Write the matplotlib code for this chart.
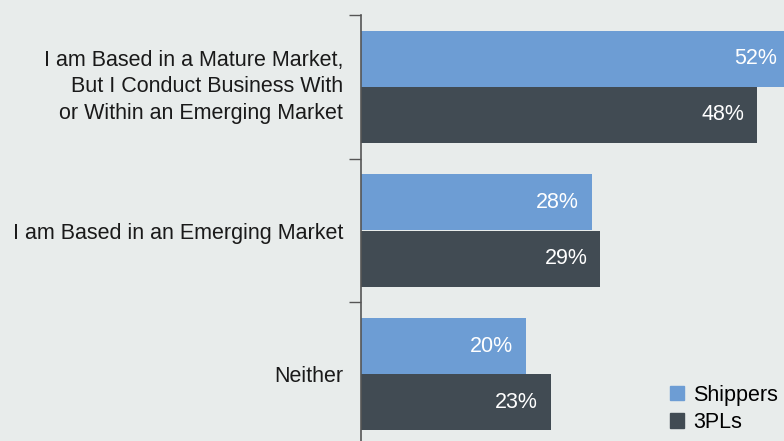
import matplotlib.pyplot as plt
from matplotlib.patches import Patch
from matplotlib.transforms import ScaledTranslation

# data
categories = ["I am Based in a Mature Market,\nBut I Conduct Business With\nor Within an Emerging Market",
              "I am Based in an Emerging Market",
              "Neither"]
shippers = [52, 28, 20]
tpls = [48, 29, 23]
series_names = ["Shippers", "3PLs"]

bg = "#e8eceb"
blue = "#6d9dd4"
dark = "#414b53"

plt.rcParams['font.family'] = ['Liberation Sans', 'DejaVu Sans']

fig = plt.figure(figsize=(7.84, 4.41), dpi=100, facecolor=bg)
ax = fig.add_axes([361/784, -5/441, 55*8.25/784, 431/441])
ax.set_facecolor(bg)

y = list(range(len(categories)))
h = 0.39
ax.barh([v - h/2 for v in y], shippers, height=h, color=blue)
ax.barh([v + h/2 for v in y], tpls, height=h, color=dark)

for i, (s, t) in enumerate(zip(shippers, tpls)):
    ax.annotate(f"{s}%", (s, i - h/2), xytext=(-13, 0), textcoords='offset pixels',
                ha='right', va='center', color='white', fontsize=15.5)
    ax.annotate(f"{t}%", (t, i + h/2), xytext=(-13, 0), textcoords='offset pixels',
                ha='right', va='center', color='white', fontsize=15.5)

ax.set_xlim(0, 55)
ax.set_ylim(2.5, -0.5)
ax.set_xticks([])
ax.set_yticks(y)
ax.set_yticklabels(categories, fontsize=15.5, color='#1a1a1a', linespacing=1.33)
ax.tick_params(axis='y', which='major', length=0, pad=13)
ax.set_yticks([-0.5, 0.5, 1.5, 2.5], minor=True)
ax.tick_params(axis='y', which='minor', length=8.6, width=1, color='#555555')
for sp in ['top', 'right', 'bottom']:
    ax.spines[sp].set_visible(False)
ax.spines['left'].set_color('#555555')
ax.spines['left'].set_linewidth(1.2)

# nudge the three-line label up a little
lab = ax.get_yticklabels()[0]
lab.set_transform(lab.get_transform() + ScaledTranslation(0, 5/100, fig.dpi_scale_trans))

handles = [Patch(color=blue), Patch(color=dark)]
fig.legend(handles, series_names, loc='lower right', bbox_to_anchor=(1.012, -0.016),
           frameon=False, fontsize=15.5, handlelength=0.65, handleheight=0.65,
           handletextpad=0.45, labelspacing=0.3, borderpad=0.2)

fig.savefig("out.png", dpi=100, facecolor=bg)
